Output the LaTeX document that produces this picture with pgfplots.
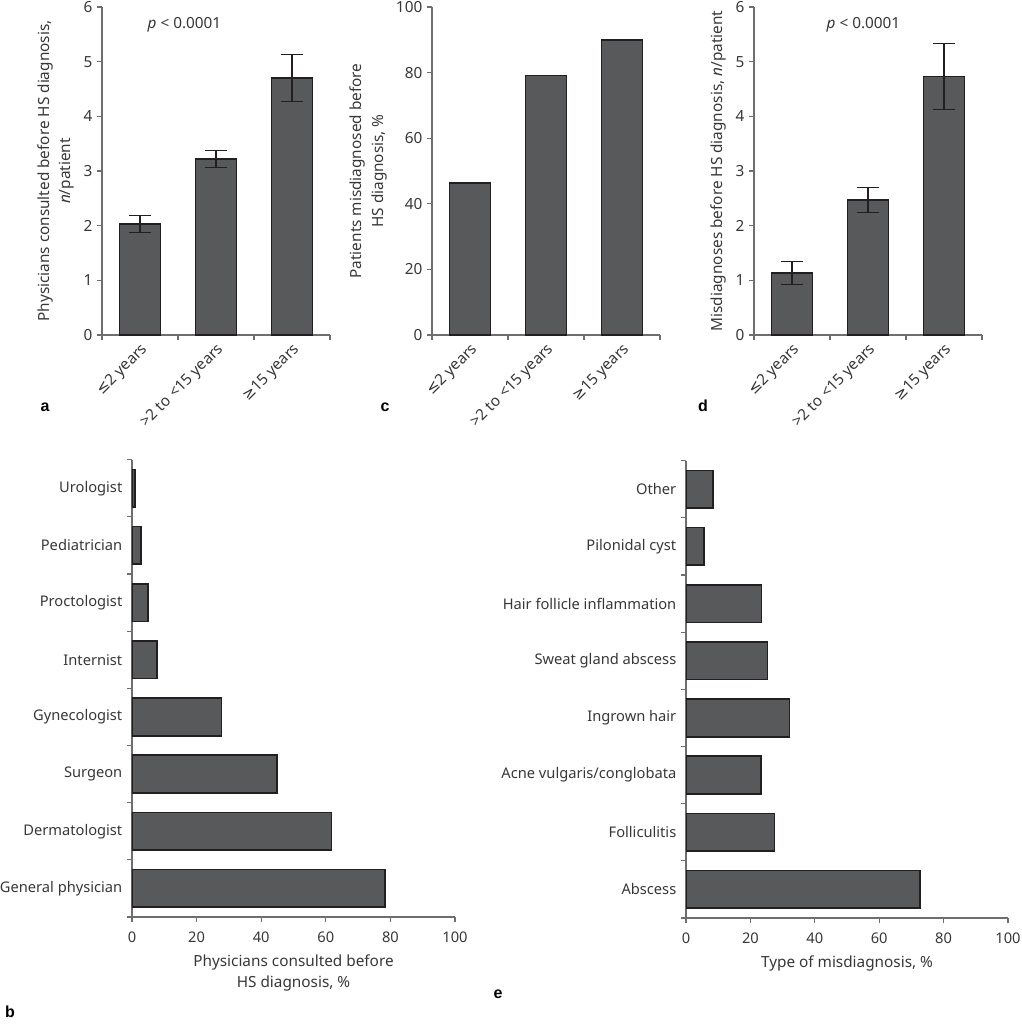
\documentclass[border=0pt]{standalone}
\usepackage{pgfplots}
\pgfplotsset{compat=1.18}
\usepackage{fontspec}
\setmainfont{Noto Sans}
\newfontfamily\symf{DejaVu Sans}
\newfontfamily\lettf{Liberation Sans}
\newcommand{\lesym}{{\symf ≤}}
\newcommand{\gesym}{{\symf ≥}}
\definecolor{barfill}{RGB}{88,89,91}
\definecolor{baredge}{RGB}{35,31,32}
\definecolor{axcol}{RGB}{110,110,110}
\definecolor{txt}{RGB}{55,55,55}
\pgfplotsset{
  common/.style={
    scale only axis,
    anchor=south west,
    axis x line*=bottom, axis y line*=left,
    axis line style={-, draw=axcol, line width=0.8pt},
    tick align=outside,
    major tick length=3.75pt, minor tick length=3.75pt,
    tick style={draw=axcol, line width=0.8pt},
    every tick label/.append style={font=\fontsize{11.5}{13}\selectfont, text=txt},
    label style={font=\fontsize{11.5}{16}\selectfont, text=txt},
    /pgf/number format/assume math mode=true,
  },
  vbars/.style={common,
    width=171pt, height=246pt,
    xmin=0, xmax=3,
    xtick={0.5,1.5,2.5},
    xticklabels={{\lesym}2 years, >2 to <15 years, {\gesym}15 years},
    minor xtick={0,1,2,3},
    major x tick style={draw=none},
    xticklabel style={rotate=45, anchor=north east, inner sep=1pt},
    ymin=0,
    ylabel style={align=center},
  },
  hbars/.style={common,
    height=343pt,
    ymin=0, ymax=8,
    ytick={0.5,1.5,...,7.5},
    minor ytick={0,...,8},
    major y tick style={draw=none},
    xmin=0, xmax=100, xtick={0,20,...,100},
    xlabel style={align=center, yshift=-2pt},
    xticklabel style={yshift=-4pt},
    every tick label/.append style={font=\fontsize{11}{13}\selectfont},
  },
  barsty/.style={fill=barfill, draw=baredge, line width=1.2pt},
}
\begin{document}
\begin{tikzpicture}
\useasboundingbox (0,0) rectangle (765.75pt,-768pt);
% panel a
\begin{axis}[vbars, at={(76.5pt,-251.25pt)}, ymax=6, ytick={0,...,6},
  ylabel={Physicians consulted before HS diagnosis,\\\textit{n}/patient}]
\addplot[ybar, bar width=0.54, barsty,
  error bars/.cd, y dir=both, y explicit,
  error bar style={draw=baredge, line width=0.9pt},
  error mark options={draw=baredge, line width=0.9pt, mark size=8pt, rotate=90}]
  coordinates {(0.5,2.03) +- (0,0.15) (1.5,3.22) +- (0,0.16) (2.5,4.70) +- (0,0.43)};
\node[font=\fontsize{11.5}{13}\selectfont, text=txt] at (axis cs:1.085,5.67) {\textit{p} < 0.0001};
\end{axis}
% panel c
\begin{axis}[vbars, at={(324pt,-251.25pt)}, ymax=100, ytick={0,20,...,100},
  ylabel={Patients misdiagnosed before\\HS diagnosis, \%}]
\addplot[ybar, bar width=0.54, barsty]
  coordinates {(0.5,46.4) (1.5,79.1) (2.5,89.9)};
\end{axis}
% panel d
\begin{axis}[vbars, at={(565.5pt,-251.25pt)}, ymax=6, ytick={0,...,6},
  ylabel={Misdiagnoses before HS diagnosis, \textit{n}/patient}]
\addplot[ybar, bar width=0.54, barsty,
  error bars/.cd, y dir=both, y explicit,
  error bar style={draw=baredge, line width=0.9pt},
  error mark options={draw=baredge, line width=0.9pt, mark size=8pt, rotate=90}]
  coordinates {(0.5,1.13) +- (0,0.21) (1.5,2.47) +- (0,0.235) (2.5,4.73) +- (0,0.60)};
\node[font=\fontsize{11.5}{13}\selectfont, text=txt] at (axis cs:1.44,5.67) {\textit{p} < 0.0001};
\end{axis}
% panel b
\begin{axis}[hbars, at={(99pt,-687.75pt)}, width=242.25pt,
  yticklabels={General physician, Dermatologist, Surgeon, Gynecologist, Internist, Proctologist, Pediatrician, Urologist},
  xlabel={Physicians consulted before\\HS diagnosis, \%}]
\addplot[xbar, bar width=0.66, barsty]
  coordinates {(78.4,0.5) (61.8,1.5) (44.9,2.5) (27.7,3.5) (7.7,4.5) (4.9,5.5) (2.8,6.5) (1.0,7.5)};
\end{axis}
% panel e
\begin{axis}[hbars, at={(514.5pt,-688.5pt)}, width=241.5pt,
  yticklabels={Abscess, Folliculitis, Acne vulgaris/conglobata, Ingrown hair, Sweat gland abscess, Hair follicle inflammation, Pilonidal cyst, Other},
  xlabel={Type of misdiagnosis, \%}]
\addplot[xbar, bar width=0.66, barsty]
  coordinates {(72.6,0.5) (27.5,1.5) (23.2,2.5) (32.2,3.5) (25.3,4.5) (23.5,5.5) (5.6,6.5) (8.4,7.5)};
\end{axis}
% panel letters
\begin{scope}[every node/.style={font=\lettf\bfseries\fontsize{12}{14}\selectfont, text=black, anchor=base}]
\node at (33.75pt,-308.25pt) {a};
\node at (288.75pt,-308.25pt) {c};
\node at (527.25pt,-308.25pt) {d};
\node at (7.5pt,-762.75pt) {b};
\node at (373.5pt,-748.5pt) {e};
\end{scope}
\end{tikzpicture}
\end{document}
